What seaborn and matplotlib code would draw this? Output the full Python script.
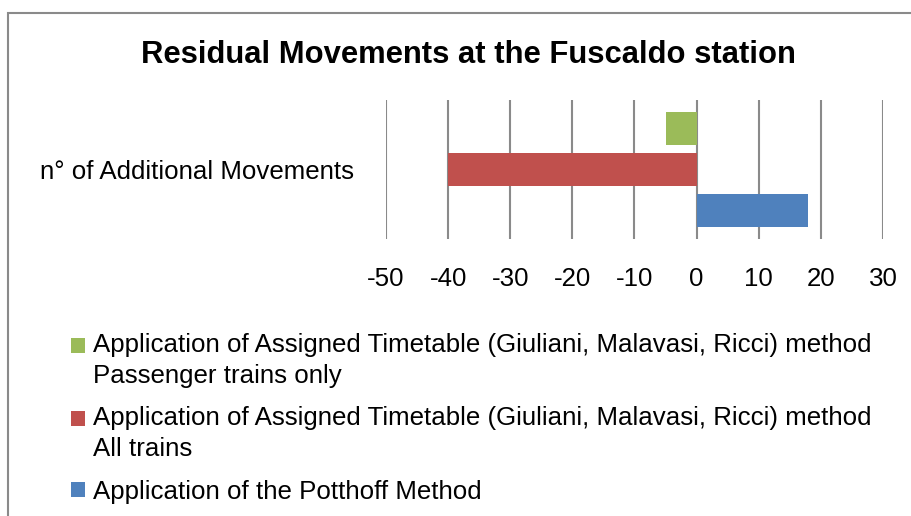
import matplotlib
matplotlib.use("Agg")
import matplotlib.pyplot as plt
import seaborn as sns
import pandas as pd
from matplotlib.patches import Rectangle, Patch
from matplotlib.legend_handler import HandlerBase

# ---- data ----
category = ["n° of Additional Movements"]
series = [
    "Application of Assigned Timetable (Giuliani, Malavasi, Ricci) method\nPassenger trains only",
    "Application of Assigned Timetable (Giuliani, Malavasi, Ricci) method\nAll trains",
    "Application of the Potthoff Method",
]
values = [-5, -40, 18]
colors = ["#9BBB59", "#C0504D", "#4F81BD"]
xticks = [-50, -40, -30, -20, -10, 0, 10, 20, 30]
title = "Residual Movements at the Fuscaldo station"

df = pd.DataFrame({
    "category": category * len(series),
    "series": series,
    "value": values,
})

sns.set_theme(style="white")
plt.rcParams["font.family"] = ["Liberation Sans", "DejaVu Sans"]

W, H = 912, 516
FS = 18.6
fig = plt.figure(figsize=(W / 100, H / 100), dpi=100)
ax = fig.add_axes([386 / W, 1 - 239 / H, (883 - 386) / W, (239 - 100) / H])

sns.barplot(data=df, y="category", x="value", hue="series", hue_order=series,
            palette=colors, orient="h", width=0.885, gap=0.2, ax=ax,
            legend=False, saturation=1, edgecolor="none", linewidth=0)

ax.set_xlim(-50, 30)
ax.set_xticks(xticks)
ax.set_xticklabels([str(v) for v in xticks])
ax.grid(axis="x", color="#8a8a8a", linewidth=1.5)
ax.grid(axis="y", visible=False)
ax.set_axisbelow(True)
for s in ax.spines.values():
    s.set_visible(False)
ax.set_xlabel("")
ax.set_ylabel("")
ax.tick_params(axis="x", length=0, pad=20.5, labelsize=FS, labelcolor="black")
ax.tick_params(axis="y", length=0, pad=23, labelsize=FS, labelcolor="black")

# title
fig.text(468 / W, 1 - 63 / H, title, ha="center", va="baseline",
         fontsize=22.3, fontweight="bold", color="black")


class OffsetSquare(HandlerBase):
    def __init__(self, dy):
        super().__init__()
        self.dy = dy

    def create_artists(self, legend, orig_handle, xdescent, ydescent,
                       width, height, fontsize, trans):
        r = Rectangle((-xdescent, -ydescent + self.dy), width, height,
                      facecolor=orig_handle.get_facecolor(),
                      edgecolor="none", transform=trans)
        return [r]


# legend
handles = [Patch(facecolor=c, edgecolor="none") for c in colors]
hmap = {h: OffsetSquare(11.0 if "\n" in lab else 0)
        for h, lab in zip(handles, series)}
leg = fig.legend(handles, series, loc="upper left", handler_map=hmap,
                 bbox_to_anchor=(71 / W, 1 - 333 / H), frameon=False,
                 fontsize=FS, handlelength=0.54, handleheight=0.54,
                 handletextpad=0.31, labelspacing=0.72, borderaxespad=0,
                 borderpad=0)
for t in leg.get_texts():
    t.set_linespacing(1.35)
    t.set_color("black")

# outer border (cut off at right and bottom)
fig.patches.append(Rectangle((8.5 / W, -0.2), 1.2, 1.2 - 12.5 / H,
                             transform=fig.transFigure, fill=False,
                             edgecolor="#8a8a8a", linewidth=1.5))

fig.savefig("out.png", dpi=100)
